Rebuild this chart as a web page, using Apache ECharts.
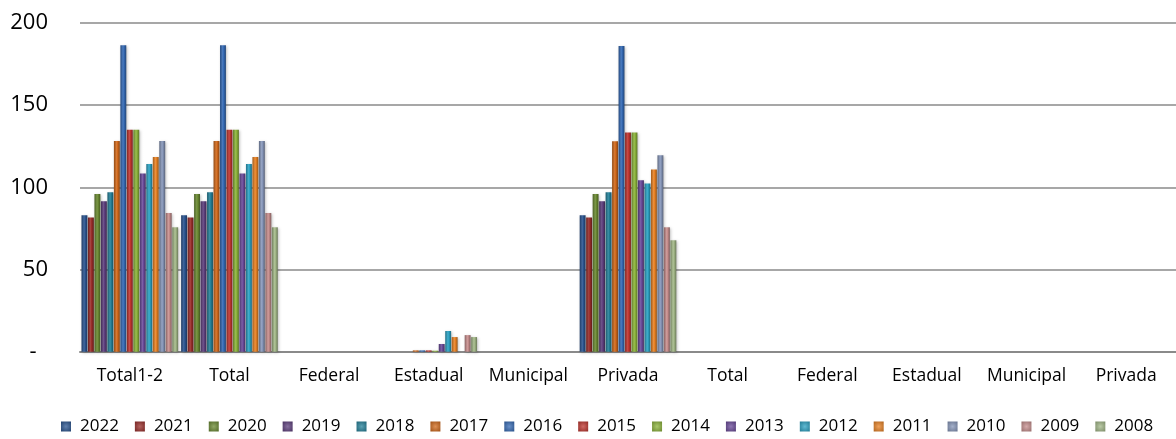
<!DOCTYPE html>
<html>
<head>
<meta charset="utf-8">
<script src="https://cdn.jsdelivr.net/npm/echarts@6/dist/echarts.min.js"></script>
<style>
html,body{margin:0;padding:0;background:#fff;}
#chart{width:1176px;height:439px;}
</style>
</head>
<body>
<div id="chart"></div>
<script>
const categories = ['Total1-2','Total','Federal','Estadual','Municipal','Privada','Total','Federal','Estadual','Municipal','Privada'];
const years = ['2022','2021','2020','2019','2018','2017','2016','2015','2014','2013','2012','2011','2010','2009','2008'];
const yTicks = [0, 50, 100, 150, 200];

const s2022 = [83.1, 83.1, 0, 0, 0, 83.0, 0, 0, 0, 0, 0];
const s2021 = [81.7, 81.7, 0, 0, 0, 81.7, 0, 0, 0, 0, 0];
const s2020 = [95.9, 95.9, 0, 0, 0, 95.9, 0, 0, 0, 0, 0];
const s2019 = [91.5, 91.5, 0, 0, 0, 91.5, 0, 0, 0, 0, 0];
const s2018 = [97.0, 97.0, 0, 0, 0, 97.0, 0, 0, 0, 0, 0];
const s2017 = [128.2, 128.2, 0, 0.8, 0, 128.0, 0, 0, 0, 0, 0];
const s2016 = [186.5, 186.5, 0, 0.8, 0, 186.0, 0, 0, 0, 0, 0];
const s2015 = [135.0, 135.0, 0, 0.8, 0, 133.4, 0, 0, 0, 0, 0];
const s2014 = [135.0, 135.0, 0, 0.6, 0, 133.4, 0, 0, 0, 0, 0];
const s2013 = [108.5, 108.5, 0, 4.7, 0, 104.3, 0, 0, 0, 0, 0];
const s2012 = [114.2, 114.2, 0, 12.6, 0, 102.4, 0, 0, 0, 0, 0];
const s2011 = [118.4, 118.4, 0, 8.9, 0, 110.9, 0, 0, 0, 0, 0];
const s2010 = [128.2, 128.2, 0, 0, 0, 119.5, 0, 0, 0, 0, 0];
const s2009 = [84.4, 84.4, 0, 10.1, 0, 75.7, 0, 0, 0, 0, 0];
const s2008 = [75.7, 75.7, 0, 8.9, 0, 67.8, 0, 0, 0, 0, 0];

const seriesValues = [s2022,s2021,s2020,s2019,s2018,s2017,s2016,s2015,s2014,s2013,s2012,s2011,s2010,s2009,s2008];

const palette = ['#2B5591','#9A2D2A','#6B8A32','#5E3F7E','#24819A','#D2691B','#356AB5','#C0352F','#8CB43A','#6A4A9A','#2CA3C4','#E98224','#8797BA','#C78E8D','#A3B888'];

function shade(hex, f){
  const n = parseInt(hex.slice(1),16);
  let r=(n>>16)&255,g=(n>>8)&255,b=n&255;
  if (f<0){ r=Math.round(r*(1+f)); g=Math.round(g*(1+f)); b=Math.round(b*(1+f)); }
  else { r=Math.round(r+(255-r)*f); g=Math.round(g+(255-g)*f); b=Math.round(b+(255-b)*f); }
  return 'rgb('+r+','+g+','+b+')';
}
function grad(hex){
  return new echarts.graphic.LinearGradient(0,0,1,0,[
    {offset:0,color:shade(hex,-0.3)},
    {offset:0.45,color:shade(hex,0.12)},
    {offset:0.6,color:hex},
    {offset:1,color:shade(hex,-0.35)}
  ]);
}
function iconGrad(hex){
  return new echarts.graphic.RadialGradient(0.5,0.5,0.7,[
    {offset:0,color:shade(hex,0.25)},
    {offset:1,color:shade(hex,-0.25)}
  ]);
}

const FONT = '"Open Sans", "Noto Sans", sans-serif';

const chart = echarts.init(document.getElementById('chart'), null, {renderer:'canvas'});
chart.setOption({
  animation:false,
  backgroundColor:'#fff',
  textStyle:{fontFamily:FONT,color:'#000'},
  grid:{left:80,right:0,top:23,bottom:87.3,containLabel:false},
  legend:{
    data:years.map((y,i)=>({name:y,itemStyle:{color:iconGrad(palette[i])}})),
    top:418,
    left:61,
    padding:0,
    itemWidth:10,
    itemHeight:10,
    itemGap:16,
    icon:'rect',
    textStyle:{fontFamily:FONT,fontSize:17,color:'#000',padding:[0,0,0,4]}
  },
  xAxis:{
    type:'category',
    data:categories,
    axisLine:{show:true,lineStyle:{color:'#8a8a8a',width:2}},
    axisTick:{show:false},
    axisLabel:{fontFamily:FONT,fontSize:17.5,color:'#000',margin:15,interval:0}
  },
  yAxis:{
    type:'value',
    min:yTicks[0],
    max:yTicks[yTicks.length-1],
    interval:50,
    axisLine:{show:false},
    axisTick:{show:false},
    splitLine:{lineStyle:{color:'#8a8a8a',width:1.5}},
    axisLabel:{fontFamily:FONT,fontSize:22,color:'#000',margin:32,
      formatter:v=> v===0 ? '-  ' : String(v)}
  },
  series:seriesValues.map((vals,i)=>({
    name:years[i],
    type:'bar',
    data:vals,
    barGap:'10%',
    barCategoryGap:'3%',
    itemStyle:{color:grad(palette[i]),shadowColor:'rgba(0,0,0,0.25)',shadowBlur:3,shadowOffsetX:1,shadowOffsetY:1}
  }))
});
</script>
</body>
</html>
